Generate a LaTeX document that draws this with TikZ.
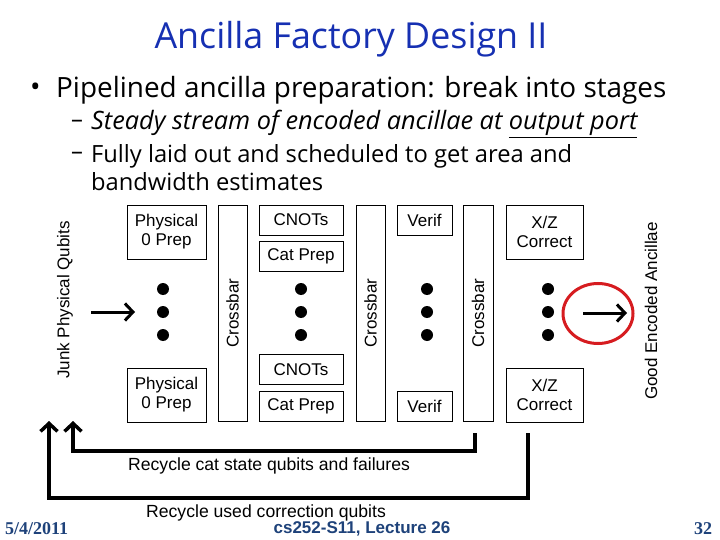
\documentclass[tikz,border=0pt]{standalone}
\usepackage{fontspec}
\setmainfont{Open Sans}
\setsansfont{Liberation Sans}
\newfontfamily\footserif{Liberation Serif}
\usetikzlibrary{arrows.meta,positioning,shapes.geometric}

\definecolor{titleblue}{RGB}{22,48,178}
\definecolor{footblue}{RGB}{30,66,122}
\definecolor{ringred}{RGB}{214,28,32}

\begin{document}
\begin{tikzpicture}[x=1pt, y=-1pt,
  font=\sffamily\fontsize{17}{19}\selectfont,
  box/.style={draw=black, line width=0.8pt, align=center, inner sep=1pt,
    minimum height=30pt},
  prepbox/.style={box, minimum width=79pt, minimum height=54pt},
  xbar/.style={draw=black, line width=0.8pt, rotate=90, inner sep=1pt,
    minimum width=216pt, minimum height=29pt},
  dot/.style={circle, fill=black, inner sep=0pt, minimum size=12pt},
  flow/.style={-{Straight Barb[length=8pt, width=17pt]}, line width=3pt},
  recycle/.style={-{Straight Barb[length=8pt, width=17pt]}, line width=3.5pt},
  sidelabel/.style={rotate=90, inner sep=0pt},
  looplabel/.style={anchor=west, inner sep=0pt, font=\sffamily\fontsize{17.6}{19}\selectfont},
  slidetext/.style={anchor=west, inner sep=0pt, font=\rmfamily\fontsize{23.7}{27}\selectfont}
]
  \useasboundingbox (0,0) rectangle (720,540);

  % heading and bullets
  \node[font=\rmfamily\fontsize{35.8}{40}\selectfont, text=titleblue] (title) at (351,39)
    {Ancilla Factory Design II};
  \node[slidetext, font=\rmfamily\fontsize{27.9}{31}\selectfont] (dotA) at (30,90) {•};
  \node[slidetext, font=\rmfamily\fontsize{27.9}{31}\selectfont] (bulletA) at (56,90)
    {Pipelined ancilla preparation: break into stages};
  \node[slidetext] (dashA) at (71,124) {–};
  \node[slidetext, font=\rmfamily\itshape\fontsize{25.3}{28}\selectfont] (subA) at (91,124)
    {Steady stream of encoded ancillae at \underline{output port}};
  \node[slidetext] (dashB) at (71,156) {–};
  \node[slidetext] (subB) at (91,156) {Fully laid out and scheduled to get area and};
  \node[slidetext] (subC) at (91,182) {bandwidth estimates};

  % stage 1
  \node[prepbox] (prepA) at (166.5,232) {Physical\\0 Prep};
  \node[prepbox] (prepB) at (166.5,395) {Physical\\0 Prep};
  \node[xbar] (xbarA) at (232.5,313) {Crossbar};

  % stage 2
  \node[box, minimum width=84pt] (cnotA) at (301,220) {CNOTs};
  \node[box, minimum width=84pt, below=6pt of cnotA] (catA) {Cat Prep};
  \node[box, minimum width=84pt] (catB) at (301,406) {Cat Prep};
  \node[box, minimum width=84pt, above=6pt of catB] (cnotB) {CNOTs};
  \node[xbar] (xbarB) at (370.5,313) {Crossbar};

  % stage 3
  \node[box, minimum width=55pt] (verA) at (424.5,220) {Verif};
  \node[box, minimum width=55pt] (verB) at (424.5,406) {Verif};
  \node[xbar, minimum height=30pt] (xbarC) at (478,313) {Crossbar};

  % stage 4
  \node[prepbox, minimum width=77pt] (xzA) at (544.5,232) {X/Z\\Correct};
  \node[prepbox, minimum width=77pt] (xzB) at (544.5,395) {X/Z\\Correct};

  % dots in each column
  \foreach \col/\x in {p/163, c/301, v/427, x/548}
    \foreach \row/\y in {1/289, 2/312, 3/335}
      \node[dot] (dot\col\row) at (\x,\y) {};

  % side labels
  \node[sidelabel] (junk) at (65,300) {Junk Physical Qubits};
  \node[sidelabel] (good) at (651,311) {Good Encoded Ancillae};

  % input and output
  \coordinate (inTail) at (91,312);
  \coordinate (inHead) at (135,312);
  \draw[flow] (inTail) -- (inHead);
  \node[ellipse, draw=ringred, line width=3pt, minimum width=70pt, minimum height=60pt]
    (ring) at (598,313.5) {};
  \coordinate (outTail) at (583,313);
  \coordinate (outHead) at (627,313);
  \draw[flow] (outTail) -- (outHead);

  % recycling loops
  \coordinate (failOut) at (475,433);
  \coordinate (failTurn) at (73,451);
  \coordinate (failIn) at (73,421);
  \coordinate (corrOut) at (528,433);
  \coordinate (corrTurn) at (49,498);
  \coordinate (corrIn) at (49,421);
  \draw[recycle] (failOut) |- (failTurn) -- (failIn);
  \draw[recycle] (corrOut) |- (corrTurn) -- (corrIn);
  \node[looplabel] (failText) at (128,466) {Recycle cat state qubits and failures};
  \node[looplabel] (corrText) at (146,513) {Recycle used correction qubits};

  % footer
  \node[anchor=west, inner sep=0pt, text=footblue, font=\footserif\bfseries\fontsize{18}{20}\selectfont]
    (date) at (5,529) {5/4/2011};
  \node[text=footblue, inner sep=0pt, font=\sffamily\bfseries\fontsize{17}{19}\selectfont]
    (course) at (362,529) {cs252-S11, Lecture 26};
  \node[text=footblue, inner sep=0pt, font=\footserif\bfseries\fontsize{18}{20}\selectfont]
    (page) at (703,529) {32};
\end{tikzpicture}
\end{document}
